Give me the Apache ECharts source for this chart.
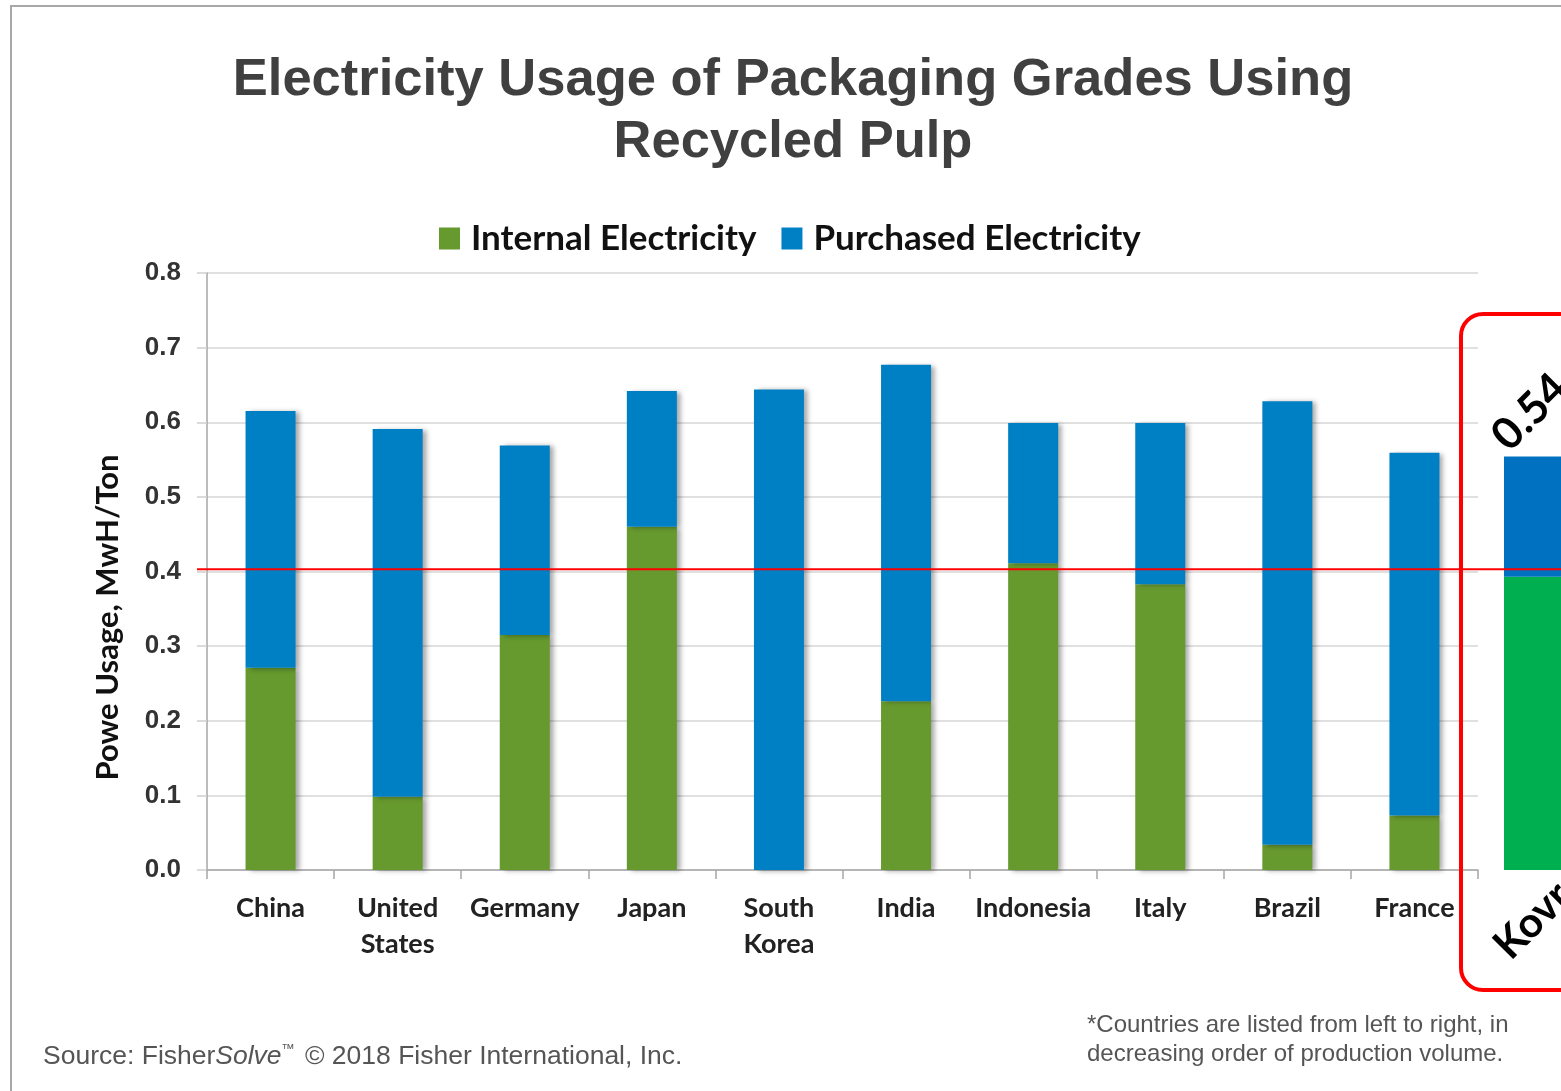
<!DOCTYPE html>
<html>
<head>
<meta charset="utf-8">
<script src="https://cdn.jsdelivr.net/npm/echarts@6/dist/echarts.min.js"></script>
<style>
html,body{margin:0;padding:0;background:#fff;}
#chart{width:1561px;height:1091px;}
</style>
</head>
<body>
<div id="chart"></div>
<script>
// ---- data ----
const titleLines = ['Electricity Usage of Packaging Grades Using', 'Recycled Pulp'];
const seriesNames = ['Internal Electricity', 'Purchased Electricity'];
const categories = ['China', 'United\nStates', 'Germany', 'Japan', 'South\nKorea', 'India', 'Indonesia', 'Italy', 'Brazil', 'France'];
const internalValues = [0.271, 0.098, 0.315, 0.460, 0, 0.226, 0.411, 0.383, 0.034, 0.073];
const purchasedValues = [0.344, 0.493, 0.254, 0.182, 0.644, 0.451, 0.188, 0.216, 0.594, 0.486];
const kovrovCategory = ['Kovrov'];
const kovrovInternal = [0.393];
const kovrovPurchased = [0.161];
const kovrovLabels = ['0.54'];
const referenceLine = 0.403;
const yMin = 0, yMax = 0.8, yInterval = 0.1;
const yAxisName = 'Powe Usage, MwH/Ton';
const sourceText = 'Source: Fisher{i|Solve}{sup|™} © 2018 Fisher International, Inc.';
const noteText = '*Countries are listed from left to right, in\ndecreasing order of production volume.';

const chart = echarts.init(document.getElementById('chart'), null, {renderer: 'canvas'});
const calibri = 'Lato, "Open Sans", sans-serif';
const arial = '"Liberation Sans", Arial, sans-serif';
const shadow = {shadowColor: 'rgba(0,0,0,0.35)', shadowBlur: 5, shadowOffsetX: 4, shadowOffsetY: 1};

const option = {
  animation: false,
  backgroundColor: '#ffffff',
  title: {
    text: titleLines.join('\n'),
    left: 788, top: 45, textAlign: 'center',
    textStyle: {fontFamily: arial, fontWeight: 'bold', fontSize: 52.5, lineHeight: 62, color: '#404040'}
  },
  legend: {
    data: seriesNames,
    left: 434, top: 216,
    icon: 'rect', itemWidth: 21, itemHeight: 22, itemGap: 25,
    textStyle: {fontFamily: calibri, fontWeight: 'bold', fontSize: 35, color: '#111', padding: [0, 0, 0, 6]}
  },
  grid: [
    {left: 207, top: 273, width: 1271, height: 597, containLabel: false},
    {left: 1504, top: 273, width: 57, height: 597, containLabel: false}
  ],
  xAxis: [
    {
      type: 'category', gridIndex: 0, data: categories,
      axisLine: {lineStyle: {color: '#a6a6a6', width: 1.5}},
      axisTick: {show: true, length: 9, lineStyle: {color: '#a6a6a6', width: 1.5}},
      axisLabel: {margin: 20, fontFamily: calibri, fontWeight: 'bold', fontSize: 27, lineHeight: 36, color: '#222', interval: 0}
    },
    {type: 'category', gridIndex: 1, data: kovrovCategory, show: false}
  ],
  yAxis: [
    {
      type: 'value', gridIndex: 0, min: yMin, max: yMax, interval: yInterval,
      name: yAxisName, nameLocation: 'middle', nameGap: 84,
      nameTextStyle: {fontFamily: calibri, fontWeight: 'bold', fontSize: 31, color: '#111', padding: [0, 92, 0, 0]},
      axisLine: {show: true, lineStyle: {color: '#a6a6a6', width: 1.5}},
      axisTick: {show: true, length: 10, lineStyle: {color: '#d0d0d0', width: 1.5}},
      splitLine: {lineStyle: {color: '#d6d6d6', width: 1.5}},
      axisLabel: {margin: 26, formatter: v => v.toFixed(1), fontFamily: arial, fontWeight: 'bold', fontSize: 26, color: '#333'}
    },
    {type: 'value', gridIndex: 1, min: yMin, max: yMax, interval: yInterval, show: false, splitLine: {show: false}}
  ],
  series: [
    {
      name: seriesNames[0], type: 'bar', stack: 'a', xAxisIndex: 0, yAxisIndex: 0,
      data: internalValues, barWidth: 50,
      itemStyle: Object.assign({color: '#66992e'}, shadow)
    },
    {
      name: seriesNames[1], type: 'bar', stack: 'a', xAxisIndex: 0, yAxisIndex: 0,
      data: purchasedValues, barWidth: 50,
      itemStyle: Object.assign({color: '#0080c4'}, shadow)
    },
    {
      name: 'Kovrov internal', type: 'bar', stack: 'k', xAxisIndex: 1, yAxisIndex: 1,
      data: kovrovInternal, barWidth: '100%',
      itemStyle: {color: '#00b050'},
      label: {
        show: true, position: [12, 390], rotate: 45, align: 'left', verticalAlign: 'bottom',
        formatter: p => kovrovCategory[p.dataIndex],
        fontFamily: calibri, fontWeight: 'bold', fontSize: 42, color: '#000'
      }
    },
    {
      name: 'Kovrov purchased', type: 'bar', stack: 'k', xAxisIndex: 1, yAxisIndex: 1,
      data: kovrovPurchased, barWidth: '100%',
      itemStyle: {color: '#0070c0'},
      label: {
        show: true, position: [11, 2], rotate: 45, align: 'left', verticalAlign: 'bottom',
        formatter: p => kovrovLabels[p.dataIndex],
        fontFamily: calibri, fontWeight: 'bold', fontSize: 44, color: '#000'
      }
    }
  ],
  graphic: [
    {type: 'rect', id: 'frame', shape: {x: 11, y: 6, width: 1700, height: 1200}, style: {fill: 'none', stroke: '#a8a8a8', lineWidth: 2}, z: 0},
    {type: 'rect', id: 'box', shape: {x: 1461, y: 314, width: 300, height: 676, r: 22}, style: {fill: 'none', stroke: '#ff0000', lineWidth: 4}, z: 100},
    {
      type: 'text', id: 'source', left: 43, top: 1043, z: 100,
      style: {
        text: sourceText, fontFamily: arial, fontSize: 26.5, fill: '#555',
        rich: {
          i: {fontFamily: arial, fontSize: 26.5, fontStyle: 'italic', fill: '#555'},
          sup: {fontFamily: arial, fontSize: 13, fill: '#555', verticalAlign: 'top', padding: [0, 3, 12, 0]}
        }
      }
    },
    {
      type: 'text', id: 'note', left: 1087, top: 1011, z: 100,
      style: {text: noteText, fontFamily: arial, fontSize: 24, lineHeight: 29, fill: '#555'}
    }
  ]
};
chart.setOption(option);

const yPix = chart.convertToPixel({yAxisIndex: 0}, referenceLine);
chart.setOption({
  graphic: [
    {type: 'line', id: 'refline', shape: {x1: 197, y1: yPix, x2: 1561, y2: yPix}, style: {stroke: '#ff0000', lineWidth: 2}, z: 90}
  ]
});
</script>
</body>
</html>
